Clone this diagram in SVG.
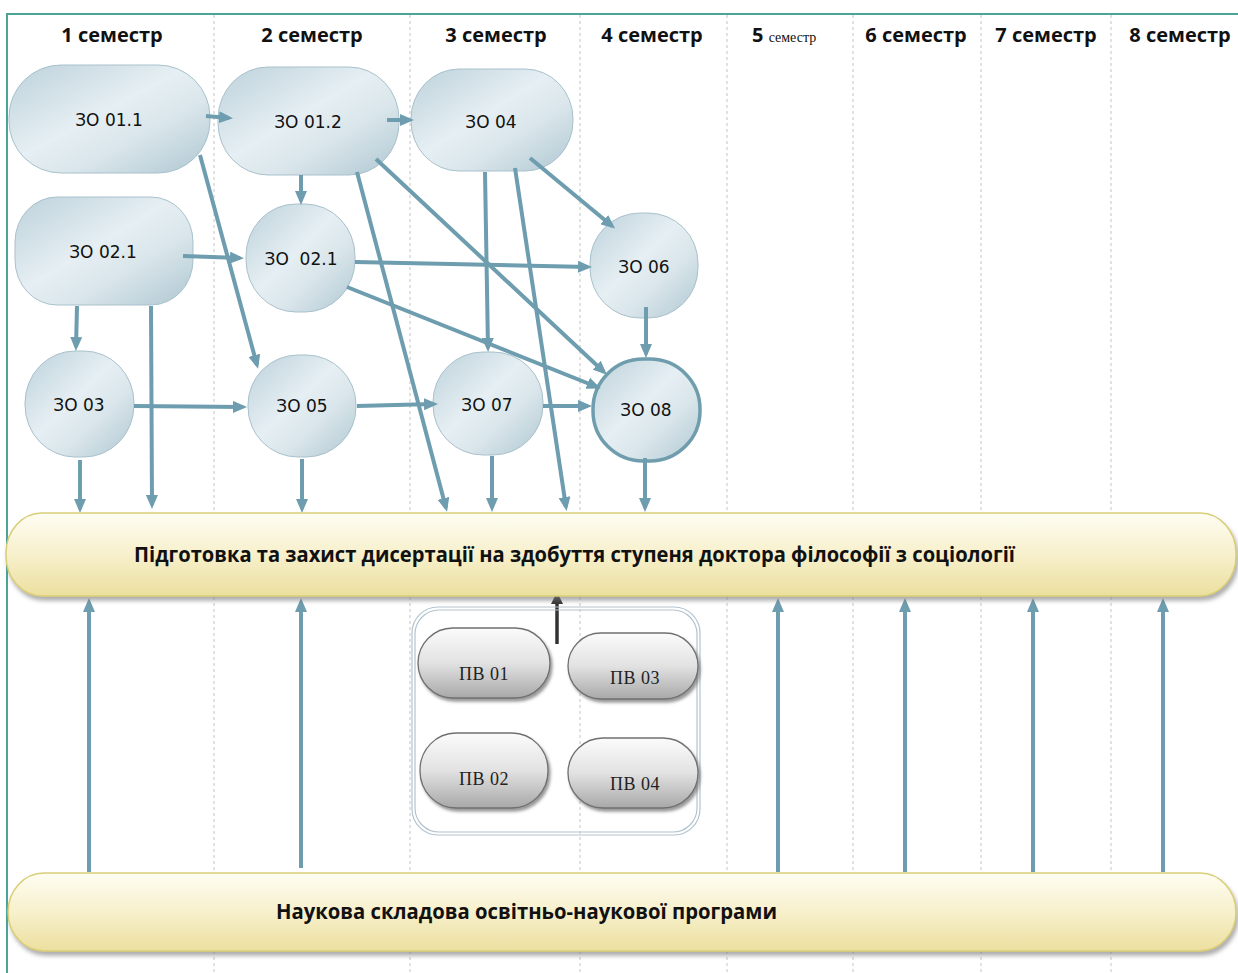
<svg xmlns="http://www.w3.org/2000/svg" width="1238" height="973" viewBox="0 0 1238 973">
<style>
.hdr{font-family:"Open Sans","Liberation Sans",sans-serif;font-weight:bold;font-size:20px;fill:#111;text-anchor:middle}
.lbl{font-family:"DejaVu Sans","Liberation Sans",sans-serif;font-size:17px;fill:#111;text-anchor:middle;white-space:pre}
.pv{font-family:"Liberation Serif","DejaVu Serif",serif;font-size:18px;fill:#222;text-anchor:middle;letter-spacing:0.5px}
.band{font-family:"Open Sans","Liberation Sans",sans-serif;font-weight:bold;font-size:21px;fill:#111}
.node{fill:url(#gNode);stroke:#a9c1cc;stroke-width:1}
.pvn{fill:url(#gPv);stroke:#707070;stroke-width:1.3;filter:url(#shPv)}
.dash{stroke:#c4c4c4;stroke-width:1;stroke-dasharray:3 3}
.arr{stroke:#6d9dae;stroke-width:4;fill:none;marker-end:url(#ah)}
</style>
<defs>
<linearGradient id="gNode" x1="0" y1="0" x2="1" y2="1">
<stop offset="0" stop-color="#bcd1db"/>
<stop offset="0.45" stop-color="#e6eff3"/>
<stop offset="0.65" stop-color="#dae6eb"/>
<stop offset="1" stop-color="#afc7d2"/>
</linearGradient>
<linearGradient id="gBand" x1="0" y1="0" x2="0" y2="1">
<stop offset="0" stop-color="#fefdf2"/>
<stop offset="0.5" stop-color="#f7f0cc"/>
<stop offset="1" stop-color="#ecdf9e"/>
</linearGradient>
<linearGradient id="gPv" x1="0" y1="0" x2="0" y2="1">
<stop offset="0" stop-color="#fbfbfb"/>
<stop offset="0.5" stop-color="#e2e2e2"/>
<stop offset="1" stop-color="#a8a8a8"/>
</linearGradient>
<filter id="shBand" x="-5%" y="-20%" width="110%" height="150%">
<feDropShadow dx="2" dy="4" stdDeviation="2" flood-color="#777" flood-opacity="0.6"/>
</filter>
<filter id="shPv" x="-10%" y="-20%" width="125%" height="150%">
<feDropShadow dx="2" dy="3" stdDeviation="1.5" flood-color="#555" flood-opacity="0.6"/>
</filter>
<marker id="ah" viewBox="0 0 14 12" refX="10" refY="6" markerWidth="14" markerHeight="12" markerUnits="userSpaceOnUse" orient="auto">
<path d="M0,0 L14,6 L0,12 z" fill="#6d9dae"/>
</marker>
<marker id="ahk" viewBox="0 0 12 12" refX="8" refY="6" markerWidth="12" markerHeight="12" markerUnits="userSpaceOnUse" orient="auto">
<path d="M0,0 L12,6 L0,12 z" fill="#333"/>
</marker>
</defs>
<rect width="1238" height="973" fill="#fff"/>
<g id="grid">
<line class="dash" x1="214" y1="15" x2="214" y2="973"/>
<line class="dash" x1="410" y1="15" x2="410" y2="973"/>
<line class="dash" x1="580" y1="15" x2="580" y2="973"/>
<line class="dash" x1="727" y1="15" x2="727" y2="973"/>
<line class="dash" x1="853" y1="15" x2="853" y2="973"/>
<line class="dash" x1="981" y1="15" x2="981" y2="973"/>
<line class="dash" x1="1111" y1="15" x2="1111" y2="973"/>
<path d="M7,973 L7,14 L1238,14" fill="none" stroke="#4aa497" stroke-width="2"/>
</g>
<g id="headers">
<text class="hdr" x="112" y="42">1 семестр</text>
<text class="hdr" x="312" y="42">2 семестр</text>
<text class="hdr" x="496" y="42">3 семестр</text>
<text class="hdr" x="652" y="42">4 семестр</text>
<text x="752" y="42" style="font-family:'Open Sans','Liberation Sans',sans-serif;font-weight:bold;font-size:20px;fill:#111">5 <tspan style="font-family:'Liberation Serif',serif;font-weight:normal;font-size:14px">семестр</tspan></text>
<text class="hdr" x="916" y="42">6 семестр</text>
<text class="hdr" x="1046" y="42">7 семестр</text>
<text class="hdr" x="1180" y="42">8 семестр</text>
</g>
<g id="n0101"><rect class="node" x="9" y="65" width="201" height="108" rx="52" ry="52"/><text class="lbl" x="109" y="126">ЗО 01.1</text></g>
<g id="n0102"><rect class="node" x="218" y="67" width="181" height="108" rx="50" ry="52"/><text class="lbl" x="308" y="128">ЗО 01.2</text></g>
<g id="n04"><rect class="node" x="411" y="69" width="162" height="102" rx="48" ry="50"/><text class="lbl" x="491" y="128">ЗО 04</text></g>
<g id="n0201a"><rect class="node" x="15" y="197" width="178" height="108" rx="42" ry="45"/><text class="lbl" x="103" y="258">ЗО 02.1</text></g>
<g id="n0201b"><rect class="node" x="246" y="204" width="109" height="108" rx="50" ry="52"/><text class="lbl" x="301" y="265">ЗО  02.1</text></g>
<g id="n06"><rect class="node" x="590" y="213" width="108" height="105" rx="50" ry="50"/><text class="lbl" x="644" y="273">ЗО 06</text></g>
<g id="n03"><rect class="node" x="25" y="351" width="109" height="106" rx="50" ry="52"/><text class="lbl" x="79" y="411">ЗО 03</text></g>
<g id="n05"><rect class="node" x="248" y="355" width="108" height="102" rx="50" ry="50"/><text class="lbl" x="302" y="412">ЗО 05</text></g>
<g id="n07"><rect class="node" x="433" y="352" width="110" height="103" rx="50" ry="50"/><text class="lbl" x="487" y="411">ЗО 07</text></g>
<g id="n08"><rect class="node" x="593" y="359" width="107" height="102" rx="50" ry="50" style="stroke:#6f9dad;stroke-width:3.5"/><text class="lbl" x="646" y="416">ЗО 08</text></g>
<g id="connectors">
<line class="arr" x1="206" y1="116" x2="229" y2="118"/>
<line class="arr" x1="387" y1="120" x2="410" y2="120"/>
<line class="arr" x1="200" y1="155" x2="257" y2="365"/>
<line class="arr" x1="301" y1="175" x2="301" y2="201"/>
<line class="arr" x1="357" y1="172" x2="446" y2="508"/>
<line class="arr" x1="376" y1="159" x2="604" y2="372"/>
<line class="arr" x1="485" y1="172" x2="488" y2="348"/>
<line class="arr" x1="515" y1="168" x2="566" y2="507"/>
<line class="arr" x1="530" y1="158" x2="612" y2="226"/>
<line class="arr" x1="183" y1="256" x2="240" y2="258"/>
<line class="arr" x1="77" y1="306" x2="76" y2="347"/>
<line class="arr" x1="151" y1="306" x2="152" y2="505"/>
<line class="arr" x1="355" y1="262" x2="588" y2="267"/>
<line class="arr" x1="347" y1="287" x2="597" y2="387"/>
<line class="arr" x1="646" y1="307" x2="646" y2="354"/>
<line class="arr" x1="134" y1="406" x2="243" y2="407"/>
<line class="arr" x1="357" y1="406" x2="434" y2="404"/>
<line class="arr" x1="543" y1="406" x2="588" y2="406"/>
<line class="arr" x1="80" y1="460" x2="80" y2="509"/>
<line class="arr" x1="302" y1="459" x2="302" y2="509"/>
<line class="arr" x1="492" y1="456" x2="492" y2="508"/>
<line class="arr" x1="645" y1="458" x2="645" y2="508"/>
<line class="arr" x1="89" y1="872" x2="89" y2="602"/>
<line class="arr" x1="301" y1="868" x2="301" y2="602"/>
<line class="arr" x1="778" y1="872" x2="778" y2="602"/>
<line class="arr" x1="905" y1="872" x2="905" y2="602"/>
<line class="arr" x1="1033" y1="872" x2="1033" y2="602"/>
<line class="arr" x1="1163" y1="872" x2="1163" y2="602"/>
<line x1="557" y1="644" x2="557" y2="596" stroke="#333" stroke-width="3.5" marker-end="url(#ahk)"/>
</g>
<g id="band1">
<rect x="6" y="513" width="1230" height="83" rx="36" ry="40" fill="url(#gBand)" stroke="#d9ce78" stroke-width="1.5" filter="url(#shBand)"/>
<text class="band" x="134" y="562" textLength="881" lengthAdjust="spacingAndGlyphs">Підготовка та захист дисертації на здобуття ступеня доктора філософії з соціології</text>
</g>
<g id="band2">
<rect x="8" y="873" width="1228" height="78" rx="36" ry="39" fill="url(#gBand)" stroke="#d9ce78" stroke-width="1.5" filter="url(#shBand)"/>
<text class="band" x="276" y="919" textLength="501" lengthAdjust="spacingAndGlyphs">Наукова складова освітньо-наукової програми</text>
</g>
<g id="pvgroup">
<rect x="412" y="607" width="288" height="228" rx="26" ry="26" fill="none" stroke="#b3c4cf" stroke-width="1.2"/>
<rect x="415" y="610" width="282" height="222" rx="24" ry="24" fill="none" stroke="#b3c4cf" stroke-width="1.2"/>
</g>
<g id="pv01"><rect class="pvn" x="418" y="628" width="132" height="70" rx="35" ry="35"/><text class="pv" x="484" y="680">ПВ 01</text></g>
<g id="pv03"><rect class="pvn" x="568" y="633" width="130" height="66" rx="33" ry="33"/><text class="pv" x="635" y="684">ПВ 03</text></g>
<g id="pv02"><rect class="pvn" x="420" y="733" width="128" height="75" rx="36" ry="37"/><text class="pv" x="484" y="785">ПВ 02</text></g>
<g id="pv04"><rect class="pvn" x="568" y="738" width="130" height="70" rx="35" ry="35"/><text class="pv" x="635" y="790">ПВ 04</text></g>
</svg>
